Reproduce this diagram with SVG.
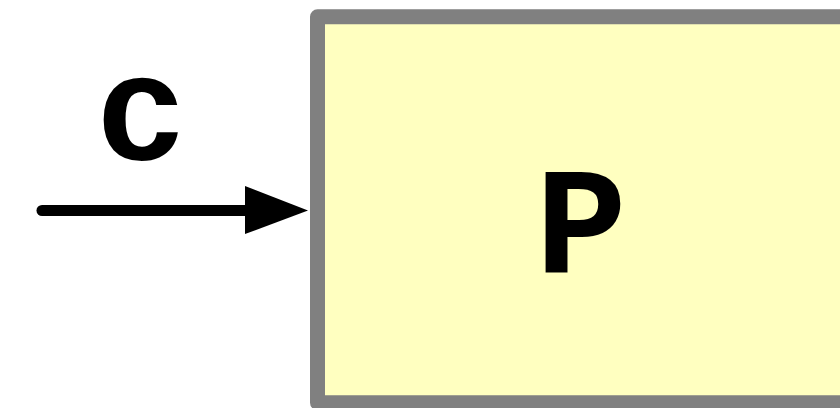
<svg xmlns="http://www.w3.org/2000/svg" width="840" height="408" viewBox="0 0 840 408">
<style>
.lbl{font-family:"Courier New","Liberation Mono","DejaVu Sans Mono",monospace;font-weight:bold;fill:#000;text-anchor:middle;font-size:152px}
</style>
<g id="node-P">
<rect x="317.5" y="16.7" width="540" height="386" fill="#ffffc0" stroke="#808080" stroke-width="15" stroke-linejoin="round"/>
<text class="lbl" x="581" y="271.5">P</text>
</g>
<g id="connectors">
<line x1="42" y1="210.5" x2="250" y2="210.5" stroke="#000" stroke-width="11" stroke-linecap="round"/>
<path d="M245,186 L308,210.5 L245,234 Z" fill="#000"/>
<text class="lbl" x="141" y="160">c</text>
</g>
</svg>
